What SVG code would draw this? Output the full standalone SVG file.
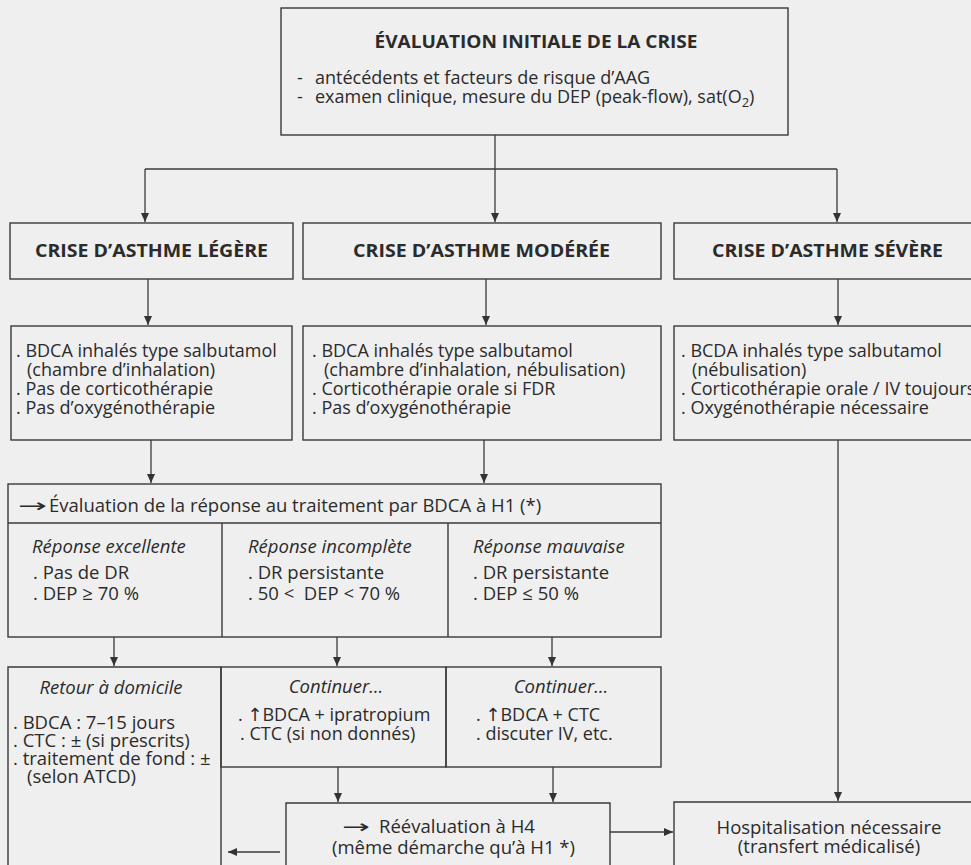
<svg xmlns="http://www.w3.org/2000/svg" width="971" height="865" viewBox="0 0 971 865">
<defs>
<marker id="ah" markerUnits="userSpaceOnUse" markerWidth="10" markerHeight="10" refX="9" refY="4" orient="auto">
<path d="M0,0 L9,4 L0,8 z" fill="#333"/>
</marker>
<style>
.bg{fill:#efefef}
.box{fill:none;stroke:#3a3a3a;stroke-width:1.4}
.ln{fill:none;stroke:#3a3a3a;stroke-width:1.3}
.ar{fill:none;stroke:#3a3a3a;stroke-width:1.3;marker-end:url(#ah)}
text{font-family:"Open Sans","Noto Sans","DejaVu Sans",sans-serif;font-size:18.5px;fill:#2b2b2b}
.s{font-size:18px}
.b{font-weight:bold}
.i{font-style:italic}
.c{text-anchor:middle}
.arw{font-family:"DejaVu Sans",sans-serif}
</style>
</defs>
<rect class="bg" x="0" y="0" width="971" height="865"/>

<g id="connectors">
<line class="ln" x1="495" y1="135" x2="495" y2="169"/>
<line class="ln" x1="145" y1="169" x2="837" y2="169"/>
<line class="ar" x1="145" y1="169" x2="145" y2="222"/>
<line class="ar" x1="495" y1="169" x2="495" y2="222"/>
<line class="ar" x1="837" y1="169" x2="837" y2="222"/>
<line class="ar" x1="148" y1="279" x2="148" y2="325"/>
<line class="ar" x1="486" y1="279" x2="486" y2="325"/>
<line class="ar" x1="838" y1="279" x2="838" y2="325"/>
<line class="ar" x1="151" y1="440" x2="151" y2="483"/>
<line class="ar" x1="484" y1="440" x2="484" y2="483"/>
<line class="ar" x1="838" y1="440" x2="838" y2="801"/>
<line class="ar" x1="114" y1="637" x2="114" y2="666"/>
<line class="ar" x1="337" y1="637" x2="337" y2="666"/>
<line class="ar" x1="552" y1="637" x2="552" y2="666"/>
<line class="ar" x1="338" y1="767" x2="338" y2="802"/>
<line class="ar" x1="553" y1="767" x2="553" y2="802"/>
<line class="ar" x1="610" y1="832" x2="673" y2="832"/>
<line class="ar" x1="280" y1="852" x2="228" y2="852"/>
</g>

<g id="evaluation-initiale">
<rect class="box" x="281" y="8" width="507" height="127"/>
<text class="b c" x="536" y="48" font-size="19" textLength="323" lengthAdjust="spacingAndGlyphs">ÉVALUATION INITIALE DE LA CRISE</text>
<text class="s" x="297" y="84">-<tspan x="315">antécédents et facteurs de risque d’AAG</tspan></text>
<text class="s" x="297" y="103">-<tspan x="315">examen clinique, mesure du DEP (peak-flow), sat(O</tspan><tspan font-size="13" dy="4">2</tspan><tspan dy="-4">)</tspan></text>
</g>

<g id="crise-legere">
<rect class="box" x="10" y="223" width="283" height="56"/>
<text class="b c" x="151.5" y="257" font-size="19" textLength="233" lengthAdjust="spacingAndGlyphs">CRISE D’ASTHME LÉGÈRE</text>
</g>
<g id="crise-moderee">
<rect class="box" x="303" y="223" width="358" height="56"/>
<text class="b c" x="481.5" y="257" font-size="19" textLength="257" lengthAdjust="spacingAndGlyphs">CRISE D’ASTHME MODÉRÉE</text>
</g>
<g id="crise-severe">
<rect class="box" x="674" y="223" width="305" height="56"/>
<text class="b c" x="827.5" y="257" font-size="19" textLength="231" lengthAdjust="spacingAndGlyphs">CRISE D’ASTHME SÉVÈRE</text>
</g>

<g id="traitement-legere">
<rect class="box" x="11" y="326" width="281" height="114"/>
<text class="s" x="16" y="357">. BDCA inhalés type salbutamol</text>
<text class="s" x="27" y="376">(chambre d’inhalation)</text>
<text class="s" x="16" y="395">. Pas de corticothérapie</text>
<text class="s" x="16" y="414">. Pas d’oxygénothérapie</text>
</g>
<g id="traitement-moderee">
<rect class="box" x="303" y="326" width="358" height="114"/>
<text class="s" x="312" y="357">. BDCA inhalés type salbutamol</text>
<text class="s" x="324" y="376">(chambre d’inhalation, nébulisation)</text>
<text class="s" x="312" y="395">. Corticothérapie orale si FDR</text>
<text class="s" x="312" y="414">. Pas d’oxygénothérapie</text>
</g>
<g id="traitement-severe">
<rect class="box" x="674" y="326" width="305" height="114"/>
<text class="s" x="681" y="357">. BCDA inhalés type salbutamol</text>
<text class="s" x="692" y="376">(nébulisation)</text>
<text class="s" x="681" y="395">. Corticothérapie orale / IV toujours</text>
<text class="s" x="681" y="414">. Oxygénothérapie nécessaire</text>
</g>

<g id="evaluation-h1">
<rect class="box" x="8" y="484" width="653" height="153"/>
<line class="box" x1="8" y1="523" x2="661" y2="523"/>
<line class="box" x1="222" y1="523" x2="222" y2="637"/>
<line class="box" x1="448" y1="523" x2="448" y2="637"/>
<text class="arw" x="18" y="512" textLength="29" lengthAdjust="spacingAndGlyphs">→</text>
<text x="49" y="512">Évaluation de la réponse au traitement par BDCA à H1 (*)</text>
<text class="i" x="32" y="553">Réponse excellente</text>
<text x="33" y="579">. Pas de DR</text>
<text x="33" y="600">. DEP ≥ 70 %</text>
<text class="i" x="248" y="553">Réponse incomplète</text>
<text x="248" y="579">. DR persistante</text>
<text x="248" y="600">. 50 &lt;&#160; DEP &lt; 70 %</text>
<text class="i" x="473" y="553">Réponse mauvaise</text>
<text x="473" y="579">. DR persistante</text>
<text x="473" y="600">. DEP ≤ 50 %</text>
</g>

<g id="retour-domicile">
<path class="box" d="M8,870 V667 H221 V870"/>
<text class="i c" x="111" y="694">Retour à domicile</text>
<text x="13" y="729">. BDCA : 7–15 jours</text>
<text x="13" y="747">. CTC : ± (si prescrits)</text>
<text x="13" y="765">. traitement de fond : ±</text>
<text x="27" y="783">(selon ATCD)</text>
</g>
<g id="continuer-incomplete">
<rect class="box" x="221" y="667" width="225" height="100"/>
<text class="i c" x="336" y="693">Continuer…</text>
<text class="s" x="238" y="721">. ↑BDCA + ipratropium</text>
<text class="s" x="240" y="740">. CTC (si non donnés)</text>
</g>
<g id="continuer-mauvaise">
<rect class="box" x="446" y="667" width="215" height="100"/>
<text class="i c" x="561" y="693">Continuer…</text>
<text class="s" x="476" y="721">. ↑BDCA + CTC</text>
<text class="s" x="476" y="740">. discuter IV, etc.</text>
</g>

<g id="reevaluation-h4">
<path class="box" d="M286,870 V803 H610 V870"/>
<text class="arw" x="342" y="833" textLength="28" lengthAdjust="spacingAndGlyphs">→</text>
<text x="379" y="833">Réévaluation à H4</text>
<text x="332" y="854">(même démarche qu’à H1 *)</text>
</g>
<g id="hospitalisation">
<path class="box" d="M674,870 V802 H980"/>
<text class="c" x="829" y="834">Hospitalisation nécessaire</text>
<text class="c" x="829" y="853">(transfert médicalisé)</text>
</g>
</svg>
